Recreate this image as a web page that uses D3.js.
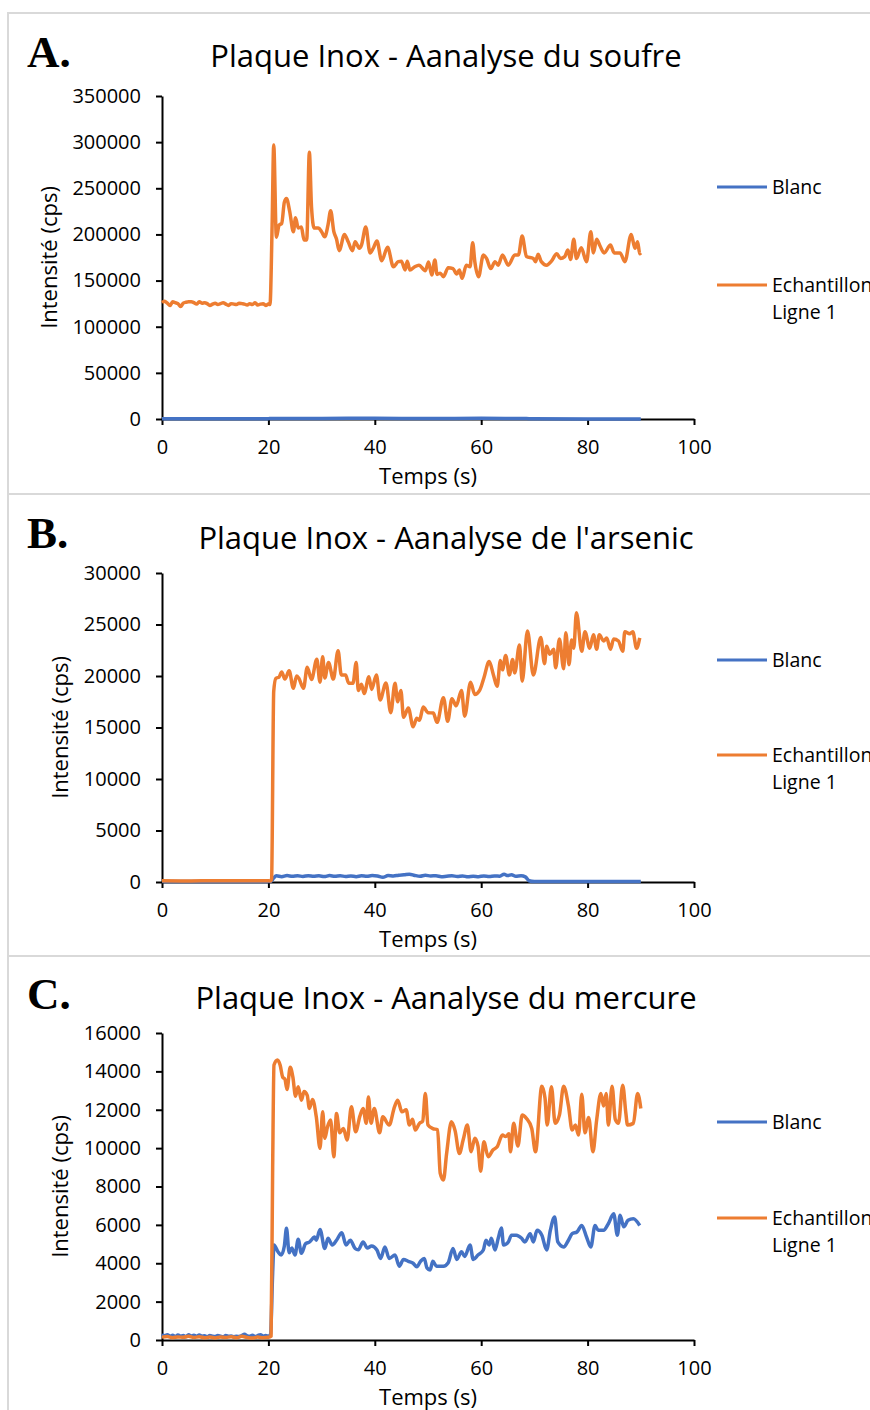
<!DOCTYPE html>
<html><head><meta charset="utf-8">
<script src="https://cdn.jsdelivr.net/npm/d3@7/dist/d3.min.js"></script>
<style>
body{margin:0;background:#fff;}
text{font-family:"Open Sans","Noto Sans",sans-serif;fill:#000;}
</style>
</head>
<body>
<svg id="chart" width="870" height="1410"></svg>
<script>
// ---------------- DATA ----------------
const seriesNames = ["Blanc", "Echantillon|Ligne 1"];
const seriesColors = ["#4472C4", "#ED7D31"];
const xTickValues = [0, 20, 40, 60, 80, 100];
const xAxisLabel = "Temps (s)";
const yAxisLabel = "Intensité (cps)";

const panelLetters = ["A.", "B.", "C."];
const panelTitles = [
  "Plaque Inox - Aanalyse du soufre",
  "Plaque Inox - Aanalyse de l'arsenic",
  "Plaque Inox - Aanalyse du mercure"
];
const yTicksA = [0, 50000, 100000, 150000, 200000, 250000, 300000, 350000];
const yTicksB = [0, 5000, 10000, 15000, 20000, 25000, 30000];
const yTicksC = [0, 2000, 4000, 6000, 8000, 10000, 12000, 14000, 16000];

// Panel A — soufre
const tA_blanc = [0, 10, 20, 20.5, 30, 40, 50, 60, 68.5, 69.5, 80, 90];
const vA_blanc = [300, 250, 300, 600, 650, 700, 650, 700, 600, 150, 100, 100];
const tA_ech = [0,0.5,1,1.5,2,2.5,3,3.5,4,4.5,5,5.5,6,6.5,7,7.5,8,8.5,9,9.5,10,10.5,11,11.5,12,12.5,13,13.5,14,14.5,15,15.5,16,16.5,17,17.5,18,18.5,19,19.5,20,20.3,
  20.7,21.0,21.5,22.0,22.5,23.0,23.4,24.0,24.7,25.1,25.6,26.2,26.7,27.2,27.7,28.1,28.6,29.4,30.0,30.6,31.2,31.7,32.3,32.8,33.3,34.3,35.0,35.8,36.3,37.1,37.5,38.3,39.1,39.7,
  40.4,41.3,42.4,43.5,44.4,45.0,45.7,46.1,46.6,47.5,48.3,49.5,50.1,50.7,51.3,51.7,52.3,52.9,53.8,54.7,55.4,55.9,56.4,57.2,57.9,58.4,58.8,59.5,
  60.4,61.0,61.8,62.6,63.2,64.0,65.1,66.3,67.0,67.7,68.5,69.8,70.2,70.7,71.3,72.3,73.2,74.2,74.9,75.7,76.3,76.8,77.4,77.9,78.8,79.8,
  80.6,81.1,81.7,82.3,83.1,84.3,85.0,86.1,87.0,88.2,88.9,89.4,89.8,90.0];
const vA_ech = [126000,127500,125500,123000,127000,126000,125000,122000,125500,126500,127000,127000,126000,124500,127000,125500,126000,125000,123000,124500,125500,124000,125000,126000,124500,123000,125000,124500,124000,125500,125000,124500,123500,125000,124000,126000,123500,124500,125000,123000,124500,124000,
  210000,297000,197000,210000,212000,235000,239000,225000,203000,218000,207000,208000,194000,194000,289000,230000,207000,207000,203000,197500,210000,225700,203000,195000,182400,200000,192000,182400,192000,185000,188500,208000,180000,185000,
  192900,171500,186000,165000,170500,171000,161500,171000,161500,165000,166700,160700,170000,156000,172300,156700,158000,154200,164000,163000,157000,161500,152400,166700,165000,191000,170500,154200,
  177700,174000,163000,170500,166700,177700,166700,177700,177700,198300,176000,174000,170500,178400,170500,166700,171000,179000,174000,176000,183000,172800,194700,174000,185500,170500,
  203000,180000,194700,188000,180000,188500,180000,180000,170500,200000,185000,192000,179000,180000];

// Panel B — arsenic
const tB_blanc = [0,5,10,15,20,20.5,21.0,21.5,22.5,23.5,24.5,25.5,26.5,27.5,28.5,29.5,30.5,31.5,32.5,33.5,34.5,35.5,36.5,37.5,38.5,39.5,40.5,41.5,42.5,43.5,44.5,45.5,46.5,47.5,48.5,49.5,
  50.5,51.5,52.5,53.5,54.5,55.5,56.5,57.5,58.5,59.5,60.5,61.5,62.5,63.5,64.3,65.0,65.7,66.5,67.5,68.3,69.0,70,80,90];
const vB_blanc = [50,40,60,50,50,60,400,600,520,620,560,600,540,610,560,600,530,620,560,600,540,590,520,600,560,620,580,450,620,580,660,700,760,640,560,650,
  590,600,520,560,600,540,590,500,560,520,580,540,590,560,760,620,700,560,600,500,120,40,40,40];
const tB_ech = [0,5,10,15,20,20.4,20.6,21.0,21.4,22.0,22.5,23.1,23.9,24.7,25.3,25.7,26.6,27.3,28.1,29.1,29.7,30.2,30.6,31.3,32.2,33.1,33.7,34.5,35.1,35.9,36.5,36.9,37.5,38.0,38.9,39.4,
  40.3,41.0,42.1,43.0,43.8,44.3,44.9,45.4,46.3,47.2,47.9,48.4,49.1,50.0,51.0,51.7,52.9,53.7,54.5,55.3,56.3,56.9,58.0,58.8,59.7,
  60.5,61.5,62.3,63.0,63.6,64.0,64.6,65.3,65.9,66.3,67.2,67.7,68.7,69.8,71.2,71.9,72.3,72.9,73.6,74.0,74.7,75.5,75.9,76.5,77.0,77.4,77.9,78.9,79.5,
  80.4,81.1,81.7,82.2,83.0,83.6,84.3,84.9,85.8,86.6,87.0,87.9,88.5,89.2,89.8];
const vB_ech = [120,100,130,110,120,100,300,18500,19780,19900,20400,19700,20500,18800,20000,19800,18800,20850,19650,21620,19400,21880,19800,21300,19700,22460,20100,20100,19300,19300,21300,18600,19200,18300,19930,18700,
  20100,17670,19330,16440,19300,17500,18600,16000,16890,15080,15900,15700,17000,16440,16400,15500,17900,15600,17800,17100,18600,16100,19400,18200,18600,
  19800,21400,20100,19000,21500,20600,22000,20100,21600,20300,23010,19500,24370,20100,23750,21200,22900,22100,22600,20800,23600,20700,24200,21100,23500,22700,26150,22400,24300,
  22700,24000,22600,24000,23400,23700,22600,23600,23400,22400,24300,24100,24300,22700,23700];

// Panel C — mercure
const tC_blanc = [0,0.5,1,1.5,2,2.5,3,3.5,4,4.5,5,5.5,6,6.5,7,7.5,8,8.5,9,9.5,10,10.5,11,11.5,12,12.5,13,13.5,14,14.5,15,15.5,16,16.5,17,17.5,18,18.5,19,19.5,20,20.4,
  20.8,21.05,21.8,22.4,23.0,23.4,23.9,24.4,25.0,25.6,26.2,27.0,27.7,28.7,29.0,29.7,30.6,31.2,32.0,32.8,33.8,34.6,35.4,36.3,36.9,37.8,38.6,39.4,
  40.4,41.1,41.9,42.7,43.8,44.6,45.4,46.3,47.2,47.9,48.6,49.3,49.8,50.4,50.9,51.6,52.9,53.8,54.7,55.4,56.3,56.9,57.9,58.5,59.4,
  60.4,60.9,61.5,61.9,62.6,63.2,63.8,64.2,65.1,65.7,66.6,67.6,68.2,69.2,69.8,70.5,71.4,72.3,73.0,73.8,74.4,75.5,76.4,77.1,78.0,78.9,79.8,
  80.6,81.4,82.0,83.0,83.9,84.9,85.6,86.1,86.8,87.6,88.6,89.8];
const vC_blanc = [300,220,280,200,250,180,260,200,240,170,280,210,250,190,260,200,220,170,240,200,180,240,200,170,230,190,210,170,200,180,230,300,220,190,250,180,230,280,200,240,200,300,
  3500,4950,4600,4430,4900,5820,4550,4800,4430,5250,4520,5020,5100,5370,5200,5760,4770,5300,4950,5200,5590,4950,5200,4770,4700,5110,4800,4900,
  4690,4250,4850,4250,4430,3850,4200,4100,4000,3820,4100,4250,3760,3650,4100,3850,3850,4030,4770,4200,4600,4350,4950,4200,4430,
  4690,5200,4950,5300,4690,5300,5840,4950,5110,5460,5460,5300,5110,5540,5110,5720,5460,4690,5720,6410,5110,4850,5200,5540,5630,5970,5370,
  4850,5970,5720,5720,6060,6580,5460,6500,5900,6240,6320,5970];
const tC_ech = [0,1,2,3,4,5,6,7,8,9,10,11,12,13,14,15,16,17,18,19,20,20.5,
  20.8,21.05,21.7,22.2,22.7,23.1,23.5,24.1,24.6,25.1,25.6,26.2,26.7,27.3,27.7,28.3,29.0,29.7,30.2,30.6,31.1,31.7,32.3,32.8,33.4,34.1,34.8,35.6,36.4,37.2,37.8,38.4,38.8,39.3,39.9,
  40.9,41.5,42.7,43.7,44.3,45.1,45.9,46.5,47.1,47.6,48.4,49.0,49.5,50.0,50.9,51.8,52.3,52.9,53.5,54.4,55.1,55.9,56.6,57.4,58.1,58.8,59.4,59.9,
  60.5,61.3,62.2,63.0,64.0,64.6,65.2,65.5,66.1,66.9,67.7,68.5,69.5,70.2,71.4,72.0,72.4,73.2,73.9,74.7,75.5,76.4,77.1,77.7,78.3,78.9,79.5,
  80.2,81.0,81.7,82.5,83.0,83.5,83.9,84.6,85.2,85.8,86.6,87.2,87.5,88.6,89.4,90.0];
const vC_ech = [150,180,120,160,140,200,130,170,120,150,110,160,130,170,120,190,130,100,150,120,140,200,
  9000,14330,14590,14330,13690,13600,13060,14210,13700,12710,13200,12500,12950,12750,12070,12540,11630,9990,11890,10510,11100,11460,9550,11800,10800,11020,10420,12150,10850,11670,12070,11290,12670,11300,12070,
  10800,11630,11200,12150,12500,11890,12000,11200,11500,10940,11290,11400,12850,11200,11020,10960,8690,8340,9720,11370,10900,9720,10420,11200,9810,10510,10100,8800,
  10330,9550,9900,10070,10680,10600,10750,9810,11290,10110,11720,11550,11020,9810,13230,12600,11200,13200,11290,11720,13230,12200,10940,11200,10680,12810,10800,
  11600,9810,11460,12850,12200,12850,11200,13230,11500,11290,13280,11800,11200,11290,12850,12070];

// ---------------- LAYOUT ----------------
const svg = d3.select("#chart");
svg.append("rect").attr("width", 870).attr("height", 1410).attr("fill", "#fff");

const panels = [
  {boxTop: 13, boxBottom: 494, top: 96, bottom: 419, yMax: 350000, yTicks: yTicksA, titleY: 67, letterY: 67, yLabelX: 57,
   legendY: [187, 285], series: [[tA_blanc, vA_blanc], [tA_ech, vA_ech]]},
  {boxTop: 494, boxBottom: 956, top: 573, bottom: 882, yMax: 30000, yTicks: yTicksB, titleY: 549, letterY: 548, yLabelX: 68,
   legendY: [660, 755], series: [[tB_blanc, vB_blanc], [tB_ech, vB_ech]]},
  {boxTop: 956, boxBottom: 1440, top: 1033, bottom: 1340, yMax: 16000, yTicks: yTicksC, titleY: 1009, letterY: 1009, yLabelX: 68,
   legendY: [1122, 1218], series: [[tC_blanc, vC_blanc], [tC_ech, vC_ech]]}
];

const x = d3.scaleLinear().domain([0, 100]).range([162, 694]);

panels.forEach((p, i) => {
  const g = svg.append("g");
  g.append("rect")
    .attr("x", 8).attr("y", p.boxTop)
    .attr("width", 900).attr("height", p.boxBottom - p.boxTop)
    .attr("fill", "none").attr("stroke", "#d9d9d9").attr("stroke-width", 2);

  const y = d3.scaleLinear().domain([0, p.yMax]).range([p.bottom, p.top]);

  // Letter
  g.append("text").text(panelLetters[i])
    .attr("x", 27).attr("y", p.letterY)
    .style("font-family", "'Liberation Serif','DejaVu Serif',serif")
    .style("font-weight", "bold").style("font-size", "45px");

  // Title
  g.append("text").text(panelTitles[i])
    .attr("x", 446).attr("y", p.titleY)
    .attr("text-anchor", "middle").style("font-size", "31px");

  // Y axis
  const ya = g.append("g").attr("transform", "translate(162,0)")
    .call(d3.axisLeft(y).tickValues(p.yTicks).tickFormat(d3.format("d")).tickSize(6).tickSizeOuter(0).tickPadding(15));
  // X axis
  const xa = g.append("g").attr("transform", `translate(0,${p.bottom})`)
    .call(d3.axisBottom(x).tickValues(xTickValues).tickFormat(d3.format("d")).tickSize(6).tickSizeOuter(0).tickPadding(15));
  [ya, xa].forEach(a => {
    a.select(".domain").attr("stroke", "#000").attr("stroke-width", 2);
    a.selectAll(".tick line").attr("stroke", "#000").attr("stroke-width", 2);
    a.selectAll(".tick text").style("font-size", "20px").style("font-family", "'Open Sans',sans-serif").attr("fill", "#000");
  });

  // Axis titles
  g.append("text").text(xAxisLabel)
    .attr("x", 428).attr("y", p.bottom + 65)
    .attr("text-anchor", "middle").style("font-size", "22px");
  g.append("text").text(yAxisLabel)
    .attr("transform", `translate(${p.yLabelX},${(p.top + p.bottom) / 2}) rotate(-90)`)
    .attr("text-anchor", "middle").style("font-size", "22px");

  // Series
  const line = d3.line().x(d => x(d[0])).y(d => y(d[1])).curve(d3.curveMonotoneX);
  p.series.forEach((s, k) => {
    const pts = s[0].map((t, j) => [t, s[1][j]]);
    g.append("path").datum(pts)
      .attr("d", line)
      .attr("fill", "none")
      .attr("stroke", seriesColors[k])
      .attr("stroke-width", 3.5)
      .attr("stroke-linejoin", "round");
  });

  // Legend
  seriesNames.forEach((name, k) => {
    const ly = p.legendY[k];
    g.append("line").attr("x1", 717).attr("x2", 767).attr("y1", ly).attr("y2", ly)
      .attr("stroke", seriesColors[k]).attr("stroke-width", 3);
    const lines = name.split("|");
    lines.forEach((ln, m) => {
      g.append("text").text(ln)
        .attr("x", 772).attr("y", ly + 7 + m * 27)
        .style("font-size", "19.5px");
    });
  });
});
</script>
</body></html>
